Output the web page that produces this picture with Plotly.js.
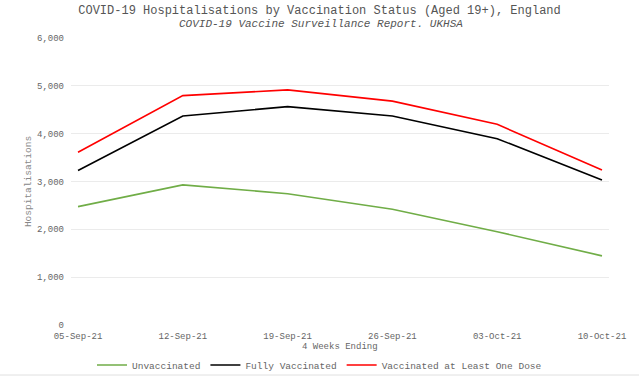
<!DOCTYPE html>
<html>
<head>
<meta charset="utf-8">
<script src="https://cdn.plot.ly/plotly-3.0.1.min.js"></script>
<style>html,body{margin:0;padding:0;background:#fff;}#chart{width:639px;height:376px;}</style>
</head>
<body>
<div id="chart"></div>
<script>
const weeks = ["05-Sep-21", "12-Sep-21", "19-Sep-21", "26-Sep-21", "03-Oct-21", "10-Oct-21"];
const unvaccinated = [2475, 2930, 2745, 2420, 1950, 1445];
const fullyVaccinated = [3230, 4370, 4565, 4370, 3895, 3030];
const atLeastOneDose = [3610, 4795, 4915, 4680, 4195, 3240];
const yTicks = [0, 1000, 2000, 3000, 4000, 5000, 6000];

const FONT = "Liberation Mono, Courier New, monospace";
const traces = [
  {x: weeks, y: unvaccinated, name: "Unvaccinated", type: "scatter", mode: "lines", line: {color: "#70ad47", width: 1.6}},
  {x: weeks, y: fullyVaccinated, name: "Fully Vaccinated", type: "scatter", mode: "lines", line: {color: "#000000", width: 1.6}},
  {x: weeks, y: atLeastOneDose, name: "Vaccinated at Least One Dose", type: "scatter", mode: "lines", line: {color: "#ff0000", width: 1.6}}
];
const layout = {
  width: 639, height: 376,
  margin: {l: 71, r: 30, t: 38, b: 51},
  paper_bgcolor: "#fff", plot_bgcolor: "#fff",
  font: {family: FONT, color: "#666", size: 9},
  title: {text: "COVID-19 Hospitalisations by Vaccination Status (Aged 19+), England",
          font: {family: FONT, size: 12, color: "#555"},
          x: 0.5, xref: "container", xanchor: "center", y: 1 - 10/376, yref: "container", yanchor: "middle"},
  annotations: [
    {text: "<i>COVID-19 Vaccine Surveillance Report. UKHSA</i>", xref: "paper", yref: "paper",
     x: (321 - 71) / 538, y: (325 - 23.5) / 287, xanchor: "center", yanchor: "middle", showarrow: false,
     font: {family: FONT, size: 11, color: "#555"}},
    {text: "4 Weeks Ending", xref: "paper", yref: "paper",
     x: 0.5, y: (325 - 346.5) / 287, xanchor: "center", yanchor: "middle", showarrow: false,
     font: {family: FONT, size: 9, color: "#666"}}
  ],
  xaxis: {type: "category", range: [-0.067, 5.067], showgrid: false, zeroline: false, showline: false,
          ticks: "", ticklabelstandoff: 4, tickfont: {size: 9, color: "#666"}},
  yaxis: {range: [0, 6000], tickvals: yTicks, tickformat: ",d", gridcolor: "#ebebeb", gridwidth: 1,
          zeroline: false, showline: false, ticks: "", ticklabelstandoff: 6, tickfont: {size: 9, color: "#666"},
          title: {text: "Hospitalisations", font: {size: 9.5, color: "#888"}, standoff: 3}},
  showlegend: true,
  legend: {orientation: "h", x: 0.5, xref: "container", xanchor: "center", y: 11/376, yref: "container", yanchor: "middle",
           font: {size: 9.5, color: "#666"}, itemwidth: 30, tracegroupgap: 0, bgcolor: "rgba(0,0,0,0)"},
  shapes: [{type: "line", xref: "paper", yref: "paper", x0: -71/538, x1: 1 + 30/538, y0: (325-375)/287, y1: (325-375)/287,
            line: {color: "#e0e0e0", width: 1}}]
};
Plotly.newPlot("chart", traces, layout, {displayModeBar: false, staticPlot: true});
</script>
</body>
</html>
